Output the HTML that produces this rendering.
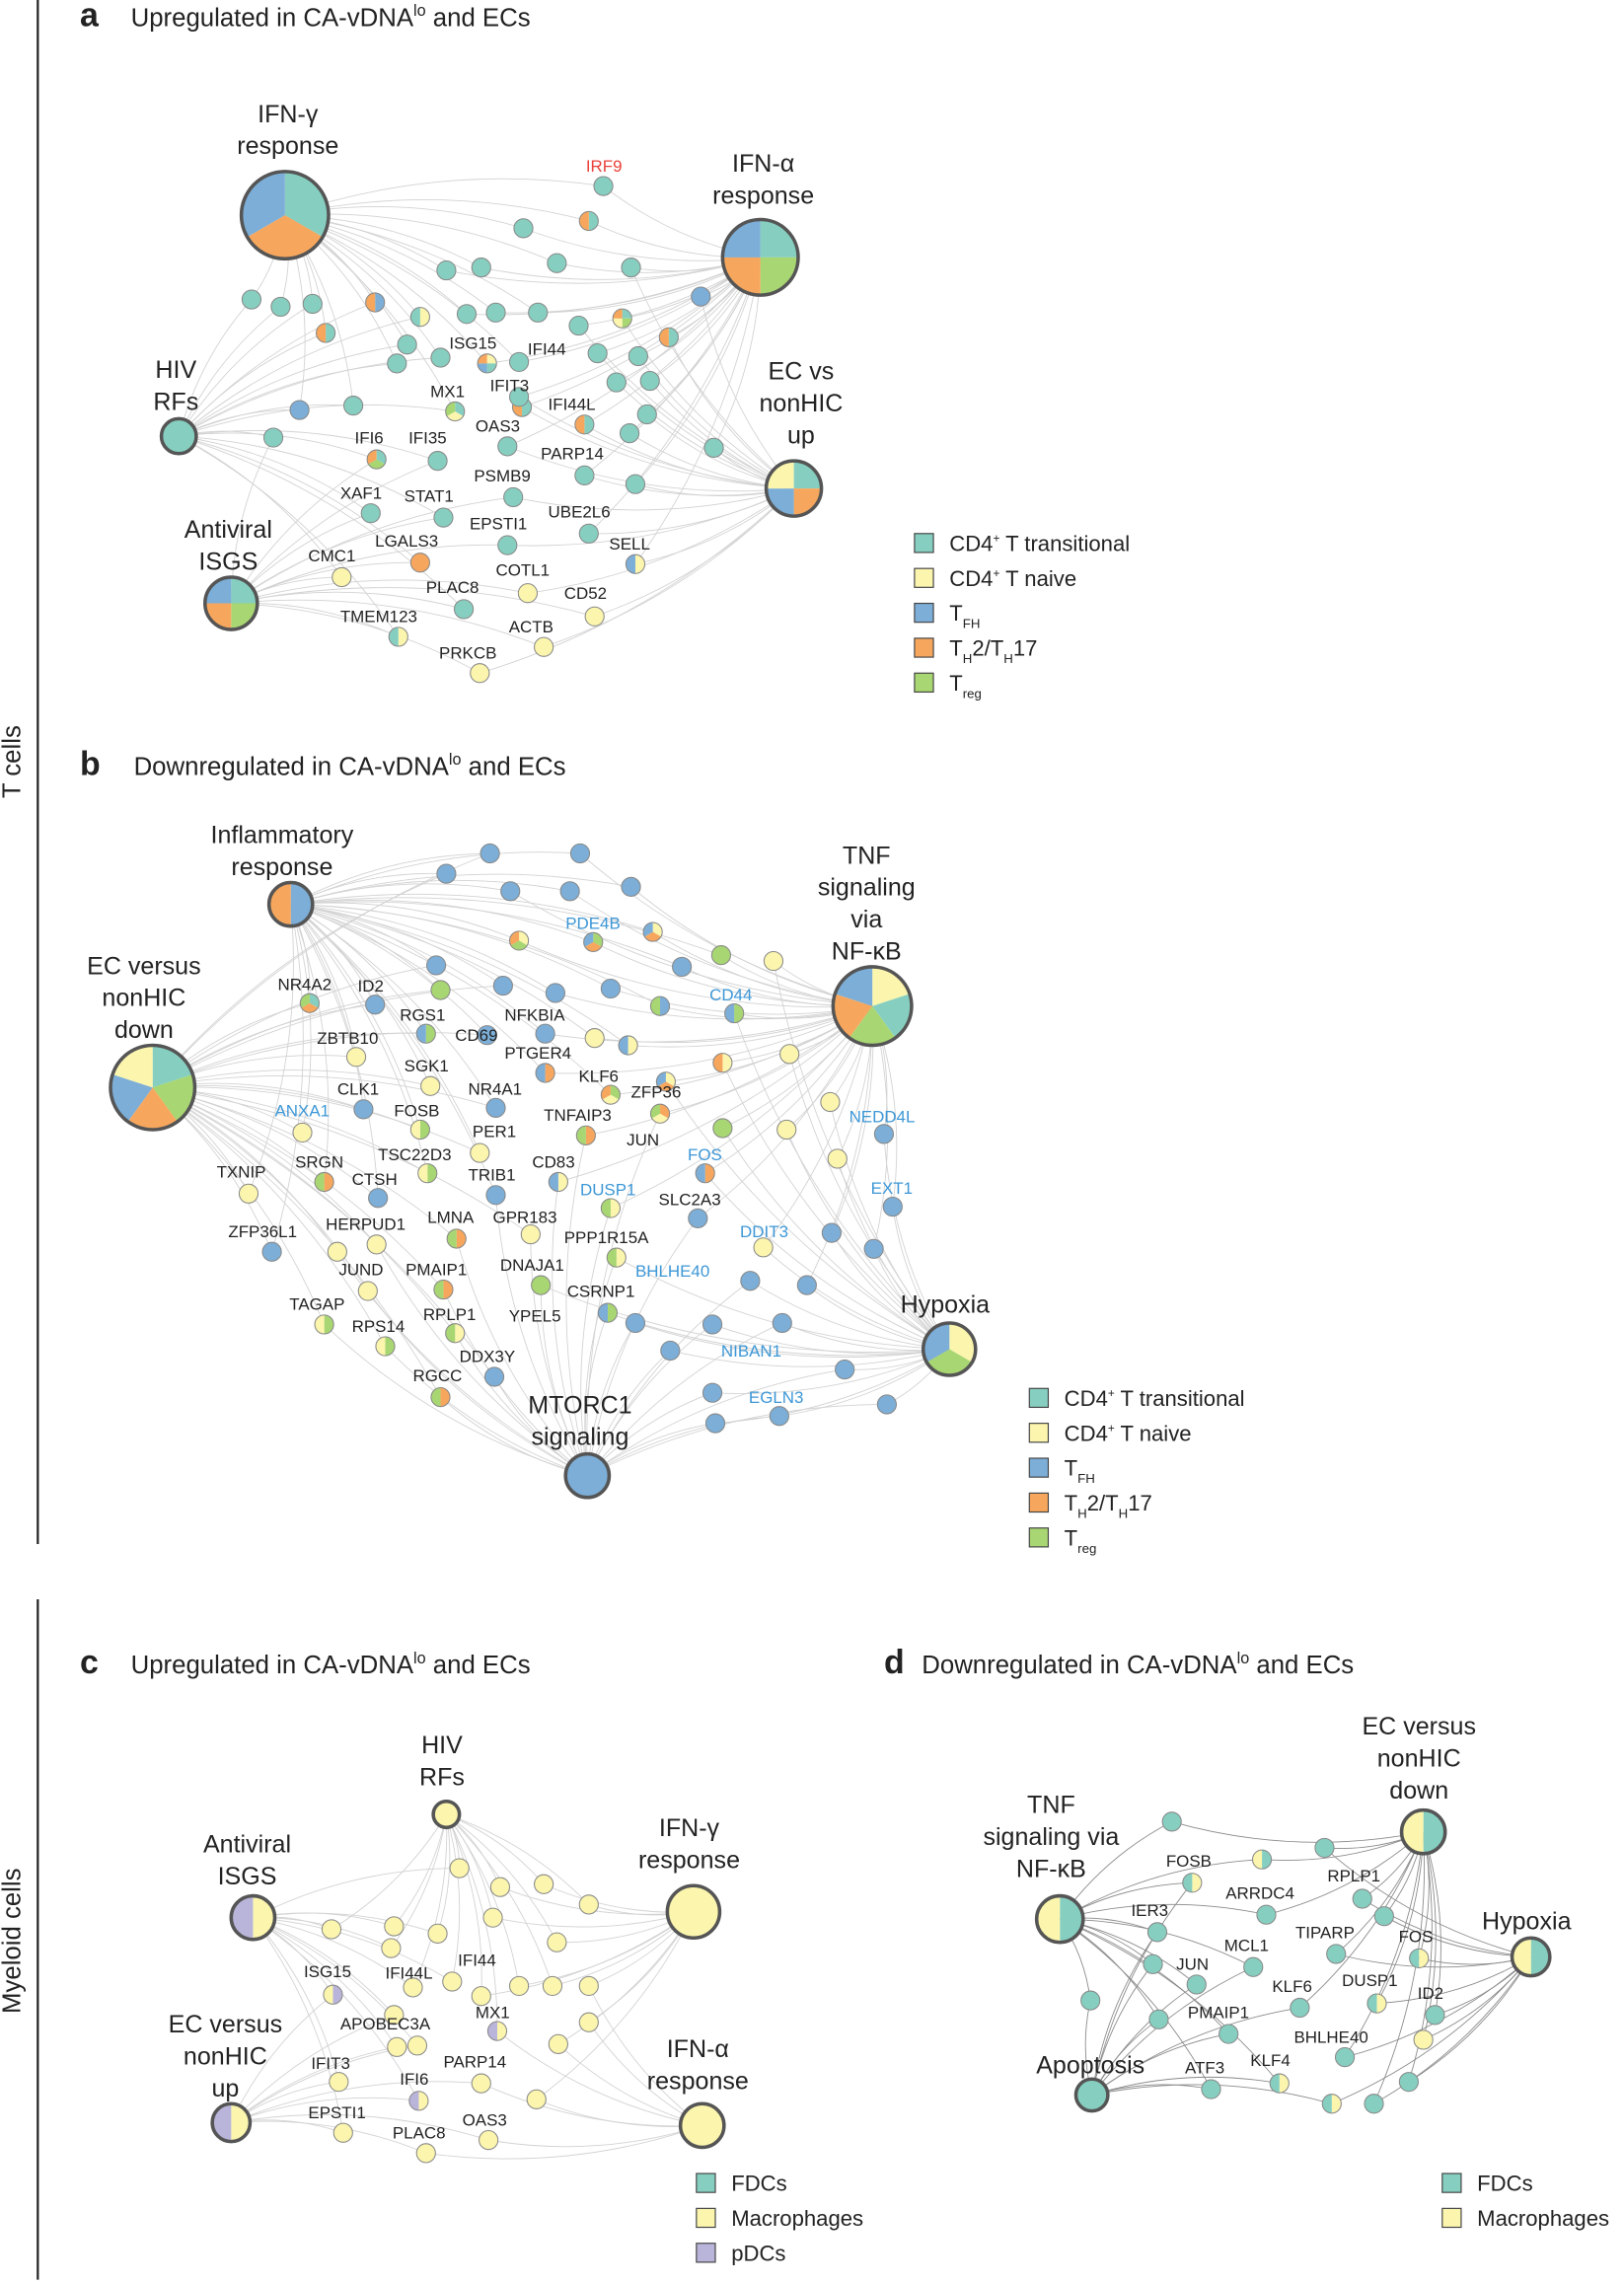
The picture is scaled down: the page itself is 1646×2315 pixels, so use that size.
<!DOCTYPE html>
<html><head><meta charset="utf-8"><style>
html,body{margin:0;padding:0;background:#fff}
svg{display:block}
text{font-family:"Liberation Sans",sans-serif;fill:#222}
.g{font-size:11.5px}
.b{fill:#3d97d6}
.h{font-size:17px;text-anchor:middle}
.t{font-size:17.5px}
.L{font-size:23px;font-weight:bold}
.lg{font-size:15px}
.r{fill:#e8423a}
</style></head><body>
<svg id="s" width="1646" height="2315" viewBox="0 0 1117 1571" xmlns="http://www.w3.org/2000/svg">
<g id="edges" fill="none" stroke="#d2d2d2" stroke-width="0.6"></g>
<g id="nodes"></g>
<line x1="26" y1="0" x2="26" y2="1062" stroke="#222" stroke-width="1.5"/>
<line x1="26" y1="1100" x2="26" y2="1568" stroke="#222" stroke-width="1.5"/>
<text class="t" transform="translate(14,524) rotate(-90)" text-anchor="middle">T cells</text>
<text class="t" transform="translate(14,1335) rotate(-90)" text-anchor="middle">Myeloid cells</text>

<text class="L" x="55" y="18">a</text><text class="t" x="90" y="18">Upregulated in CA-vDNA<tspan font-size="11" dy="-7">lo</tspan><tspan dy="7"> and ECs</tspan></text>
<text class="L" x="55" y="533">b</text><text class="t" x="92" y="533">Downregulated in CA-vDNA<tspan font-size="11" dy="-7">lo</tspan><tspan dy="7"> and ECs</tspan></text>
<text class="L" x="55" y="1151">c</text><text class="t" x="90" y="1151">Upregulated in CA-vDNA<tspan font-size="11" dy="-7">lo</tspan><tspan dy="7"> and ECs</tspan></text>
<text class="L" x="608" y="1151">d</text><text class="t" x="634" y="1151">Downregulated in CA-vDNA<tspan font-size="11" dy="-7">lo</tspan><tspan dy="7"> and ECs</tspan></text>

<text class="h" x="198" y="84">IFN-γ</text><text class="h" x="198" y="106">response</text>
<text class="h" x="525" y="118">IFN-α</text><text class="h" x="525" y="140">response</text>
<text class="h" x="121" y="260">HIV</text><text class="h" x="121" y="282">RFs</text>
<text class="h" x="551" y="261">EC vs</text><text class="h" x="551" y="283">nonHIC</text><text class="h" x="551" y="305">up</text>
<text class="h" x="157" y="370">Antiviral</text><text class="h" x="157" y="392">ISGS</text>
<g class="g">
<text class="r" x="403" y="118">IRF9</text>
<text x="309" y="240">ISG15</text><text x="363" y="244">IFI44</text><text x="337" y="269">IFIT3</text><text x="296" y="273">MX1</text>
<text x="377" y="282">IFI44L</text><text x="327" y="297">OAS3</text><text x="244" y="305">IFI6</text><text x="281" y="305">IFI35</text>
<text x="372" y="316">PARP14</text><text x="326" y="331">PSMB9</text><text x="234" y="343">XAF1</text><text x="278" y="345">STAT1</text>
<text x="323" y="364">EPSTI1</text><text x="377" y="356">UBE2L6</text><text x="258" y="376">LGALS3</text><text x="419" y="378">SELL</text>
<text x="212" y="386">CMC1</text><text x="341" y="396">COTL1</text><text x="293" y="408">PLAC8</text><text x="388" y="412">CD52</text>
<text x="234" y="428">TMEM123</text><text x="350" y="435">ACTB</text><text x="302" y="453">PRKCB</text>
</g>
<text class="h" x="194" y="580">Inflammatory</text><text class="h" x="194" y="602">response</text>
<text class="h" x="596" y="594">TNF</text><text class="h" x="596" y="616">signaling</text><text class="h" x="596" y="638">via</text><text class="h" x="596" y="660">NF-κB</text>
<text class="h" x="99" y="670">EC versus</text><text class="h" x="99" y="692">nonHIC</text><text class="h" x="99" y="714">down</text>
<text class="h" x="650" y="903">Hypoxia</text>
<text class="h" x="399" y="972">MTORC1</text><text class="h" x="399" y="994">signaling</text>
<g class="g">
<text class="b" x="389" y="639">PDE4B</text><text class="b" x="488" y="688">CD44</text>
<text x="191" y="681">NR4A2</text><text x="246" y="682">ID2</text><text x="275" y="702">RGS1</text><text x="347" y="702">NFKBIA</text>
<text x="218" y="718">ZBTB10</text><text x="313" y="716">CD69</text><text x="347" y="728">PTGER4</text><text x="278" y="737">SGK1</text>
<text x="398" y="744">KLF6</text><text x="232" y="753">CLK1</text><text x="322" y="753">NR4A1</text><text x="434" y="755">ZFP36</text>
<text class="b" x="189" y="768">ANXA1</text><text x="271" y="768">FOSB</text><text x="374" y="771">TNFAIP3</text><text x="325" y="782">PER1</text>
<text x="431" y="788">JUN</text><text x="260" y="798">TSC22D3</text><text class="b" x="473" y="798">FOS</text><text class="b" x="584" y="772">NEDD4L</text>
<text x="149" y="810">TXNIP</text><text x="203" y="803">SRGN</text><text x="366" y="803">CD83</text><text x="242" y="815">CTSH</text><text x="322" y="812">TRIB1</text>
<text class="b" x="399" y="822">DUSP1</text><text x="453" y="829">SLC2A3</text><text class="b" x="599" y="821">EXT1</text>
<text x="294" y="841">LMNA</text><text x="339" y="841">GPR183</text><text x="224" y="846">HERPUD1</text><text x="157" y="851">ZFP36L1</text>
<text class="b" x="509" y="851">DDIT3</text><text x="388" y="855">PPP1R15A</text><text x="233" y="877">JUND</text><text x="279" y="877">PMAIP1</text>
<text x="344" y="874">DNAJA1</text><text class="b" x="437" y="878">BHLHE40</text><text x="390" y="892">CSRNP1</text><text x="199" y="901">TAGAP</text>
<text x="291" y="908">RPLP1</text><text x="350" y="909">YPEL5</text><text x="242" y="916">RPS14</text><text x="316" y="937">DDX3Y</text>
<text class="b" x="496" y="933">NIBAN1</text><text x="284" y="950">RGCC</text><text class="b" x="515" y="965">EGLN3</text>
</g>
<text class="h" x="304" y="1206">HIV</text><text class="h" x="304" y="1228">RFs</text>
<text class="h" x="170" y="1274">Antiviral</text><text class="h" x="170" y="1296">ISGS</text>
<text class="h" x="474" y="1263">IFN-γ</text><text class="h" x="474" y="1285">response</text>
<text class="h" x="155" y="1398">EC versus</text><text class="h" x="155" y="1420">nonHIC</text><text class="h" x="155" y="1442">up</text>
<text class="h" x="480" y="1415">IFN-α</text><text class="h" x="480" y="1437">response</text>
<g class="g">
<text x="209" y="1360">ISG15</text><text x="265" y="1361">IFI44L</text><text x="315" y="1352">IFI44</text><text x="327" y="1388">MX1</text>
<text x="234" y="1396">APOBEC3A</text><text x="214" y="1423">IFIT3</text><text x="305" y="1422">PARP14</text><text x="275" y="1434">IFI6</text>
<text x="212" y="1457">EPSTI1</text><text x="318" y="1462">OAS3</text><text x="270" y="1471">PLAC8</text>
</g>
<text class="h" x="976" y="1193">EC versus</text><text class="h" x="976" y="1215">nonHIC</text><text class="h" x="976" y="1237">down</text>
<text class="h" x="723" y="1247">TNF</text><text class="h" x="723" y="1269">signaling via</text><text class="h" x="723" y="1291">NF-κB</text>
<text class="h" x="1050" y="1327">Hypoxia</text><text class="h" x="750" y="1426">Apoptosis</text>
<g class="g">
<text x="802" y="1284">FOSB</text><text x="843" y="1306">ARRDC4</text><text x="913" y="1294">RPLP1</text><text x="778" y="1318">IER3</text>
<text x="891" y="1333">TIPARP</text><text x="962" y="1336">FOS</text><text x="842" y="1342">MCL1</text><text x="809" y="1355">JUN</text>
<text x="923" y="1366">DUSP1</text><text x="875" y="1370">KLF6</text><text x="975" y="1375">ID2</text><text x="817" y="1388">PMAIP1</text>
<text x="890" y="1405">BHLHE40</text><text x="815" y="1426">ATF3</text><text x="860" y="1421">KLF4</text>
</g>
<g id="leg"></g>
</svg>
<script>
var C={t:"#86cfc0",y:"#fbf5ad",b:"#7caed7",o:"#f7a75d",g:"#a8d672",p:"#b9b4d9"};
var E=document.getElementById("edges"),N=document.getElementById("nodes"),NS="http://www.w3.org/2000/svg";
function el(tag,a,p){var e=document.createElementNS(NS,tag);for(var k in a)e.setAttribute(k,a[k]);p.appendChild(e);return e;}
function pie(x,y,r,cols,hub){
 var g=el("g",{},N);
 if(cols.length==1){el("circle",{cx:x,cy:y,r:r,fill:C[cols[0]]},g);}
 else{var n=cols.length;for(var i=0;i<n;i++){var a0=-Math.PI/2+i*2*Math.PI/n,a1=a0+2*Math.PI/n;
  el("path",{d:"M"+x+","+y+"L"+(x+r*Math.cos(a0))+","+(y+r*Math.sin(a0))+"A"+r+","+r+" 0 0 1 "+(x+r*Math.cos(a1))+","+(y+r*Math.sin(a1))+"Z",fill:C[cols[i]]},g);}}
 el("circle",{cx:x,cy:y,r:r,fill:"none",stroke:hub?"#555":"#888","stroke-width":hub?2.4:0.7},g);
}
function panel(hubs,nodes,ec){
 nodes.forEach(function(n){
  var d=hubs.map(function(h,i){return [Math.hypot(h[0]-n[0],h[1]-n[1]),i]}).sort(function(a,b){return a[0]-b[0]});
  for(var k=0;k<2;k++){var h=hubs[d[k][1]];
   var mx=(h[0]+n[0])/2+(n[1]-h[1])*0.12,my=(h[1]+n[1])/2-(n[0]-h[0])*0.12;
   el("path",{d:"M"+h[0]+","+h[1]+"Q"+mx+","+my+" "+n[0]+","+n[1],stroke:ec||"#d2d2d2"},E);}
 });
 hubs.forEach(function(h){pie(h[0],h[1],h[2],h[3],1)});
 nodes.forEach(function(n){pie(n[0],n[1],6.5,n[2],0)});
}
function S(s){return s.split(";").map(function(q){var p=q.split(",");return [+p[0],+p[1],p[2]?p[2].split(""):["t"]]});}
panel([[196,148,30,["t","o","b"]],[523,177,26,["t","g","o","b"]],[123,300,12,["t"]],[546,336,19,["t","o","b","y"]],[159,415,18,["t","g","o","b"]]],
S("415,128;405,152,to;360,157;383,181;331,184;307,186;434,184;173,206;193,211;215,209;258,208,bo;289,218,yt;321,216;341,215;370,215;398,224;428,219,tgyo;460,232,to;482,204,b;280,237;224,229,to;303,246;335,250,ytbo;357,249;411,243;439,245;273,250;243,279;206,282,b;188,301;313,283,tyg;359,280,to;357,273;402,292,to;424,263;447,262;445,285;433,298;491,308;259,316,tgo;301,317;349,307;437,333;402,327;255,353;305,356;353,342;405,367;289,387,o;349,375;437,388,yb;235,397,y;363,408,y;319,419;409,424,y;274,438,yt;374,445,y;330,463,y"));
panel([[200,622,15,["b","o"]],[600,692,27,["y","t","g","o","b"]],[105,748,29,["t","g","o","b","y"]],[653,928,18,["y","g","b"]],[404,1015,15,["b"]]],
S("337,587,b;399,587,b;307,601,b;351,613,b;392,613,b;434,610,b;357,647,ygo;408,648,gob;449,641,yob;300,664,b;469,665,b;496,657,g;532,661,y;213,690,tog;258,691,b;303,681,g;346,678,b;382,683,b;420,680,b;454,692,bg;505,697,gb;293,711,gb;335,712,b;375,711,b;409,714,y;432,719,yb;245,727,y;296,747,y;375,738,ob;420,753,gyo;458,744,yob;497,731,yo;543,725,y;250,763,b;289,777,gy;341,762,b;403,781,og;454,766,oyg;497,776,g;571,758,y;208,779,y;330,793,y;384,813,yb;485,807,ob;541,777,y;576,797,y;608,780,b;171,821,y;223,813,og;260,824,b;294,807,gy;341,822,b;420,831,yg;480,838,b;525,858,y;572,848,b;601,859,b;614,830,b;187,861,b;232,861,y;259,856,y;314,852,og;365,849,y;424,865,yg;253,888,y;305,887,og;372,884,g;418,903,gb;516,881,b;555,884,b;223,911,gy;265,926,gy;313,917,yg;340,947,b;437,910,b;490,911,b;538,910,b;303,961,og;461,929,b;490,958,b;536,974,b;581,942,b;610,966,b;492,979,b"));
panel([[307,1248,9,["y"]],[174,1319,15,["y","p"]],[477,1315,18,["y"]],[159,1460,13,["y","p"]],[483,1462,15,["y"]]],
S("316,1285,y;344,1298,y;374,1296,y;405,1310,y;228,1327,y;271,1325,y;301,1330,y;339,1319,y;383,1336,y;269,1340,y;229,1372,py;284,1367,y;311,1363,y;357,1366,y;380,1366,y;405,1366,y;331,1373,y;342,1397,yp;271,1386,y;287,1407,y;405,1391,y;384,1406,y;233,1432,y;273,1408,y;331,1433,y;288,1445,yp;369,1444,y;236,1467,y;293,1481,y;336,1472,y"));
panel([[979,1260,15,["t","y"]],[729,1320,16,["t","y"]],[1053,1346,13,["t","y"]],[751,1441,11,["t"]]],
S("806,1253;868,1279,ty;911,1271;820,1295,yt;871,1317;937,1306;952,1318;796,1329;919,1344;976,1347,yt;823,1365;862,1353;793,1351;750,1376;797,1389;894,1381;947,1378,yt;987,1386;845,1399;979,1403,y;925,1415;880,1433,yt;833,1437;969,1432;916,1447,yt;945,1447"),"#8a8a8a");
var L=document.getElementById("leg");
function leg(x,y,items){items.forEach(function(it,i){var yy=y+i*24;
 el("rect",{x:x,y:yy-7,width:13,height:13,fill:C[it[0]],stroke:"#444","stroke-width":0.8},L);
 var t=el("text",{x:x+24,y:yy+5,"class":"lg"},L);t.innerHTML=it[1];});}
var tl=[["t","CD4<tspan font-size='8' dy='-6'>+</tspan><tspan dy='6'> T transitional</tspan>"],["y","CD4<tspan font-size='8' dy='-6'>+</tspan><tspan dy='6'> T naive</tspan>"],["b","T<tspan font-size='9' dy='5'>FH</tspan>"],["o","T<tspan font-size='9' dy='5'>H</tspan><tspan dy='-5'>2/T</tspan><tspan font-size='9' dy='5'>H</tspan><tspan dy='-5'>17</tspan>"],["g","T<tspan font-size='9' dy='5'>reg</tspan>"]];
leg(629,374,tl);leg(708,962,tl);
leg(479,1502,[["t","FDCs"],["y","Macrophages"],["p","pDCs"]]);
leg(992,1502,[["t","FDCs"],["y","Macrophages"]]);
</script>
</body></html>
